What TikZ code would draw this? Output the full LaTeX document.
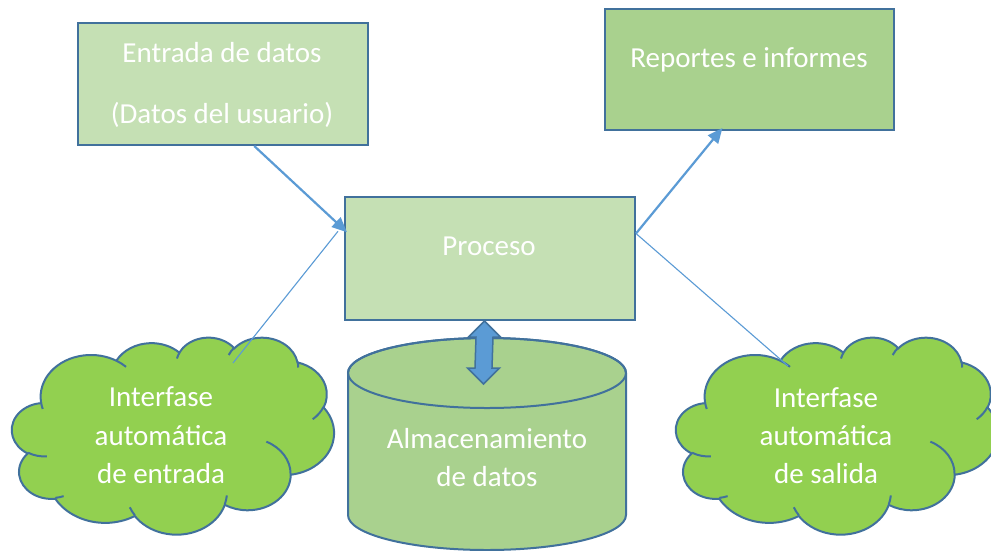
\documentclass[tikz,border=0pt]{standalone}
\usepackage{fontspec}
\setmainfont{Carlito}
\usetikzlibrary{arrows.meta,calc}
\definecolor{lgreen}{HTML}{C5E0B4}
\definecolor{mgreen}{HTML}{A9D18E}
\definecolor{cgreen}{HTML}{92D050}
\definecolor{bord}{HTML}{41719C}
\definecolor{arr}{HTML}{5B9BD5}
\newcommand\oarc[4]{arc[x radius=#1pt, y radius=#2pt, start angle={atan2(#1*sin(#3),#2*cos(#3))}, delta angle={mod(atan2(#1*sin(#3+#4),#2*cos(#3+#4))-atan2(#1*sin(#3),#2*cos(#3))+720,360)}]}
\newcommand\cloudoutline{(390pt,1437pt)
 \oarc{675.3}{919.0}{-190.487}{123.781}
 \oarc{533.3}{726.7}{-144.102}{89.945}
 \oarc{436.5}{594.5}{-145.808}{99.723}
 \oarc{485.7}{659.5}{-130.986}{117.242}
 \oarc{533.3}{727.3}{-78.709}{109.027}
 \oarc{677.5}{922.0}{-46.267}{130.269}
 \oarc{578.5}{786.7}{0.625}{114.033}
 \oarc{675.2}{921.5}{22.452}{115.173}
 \oarc{772.0}{1054.3}{66.243}{75.711}
 \oarc{436.0}{591.8}{-274.942}{146.736}
 \oarc{434.5}{594.5}{-246.829}{152.519} -- cycle}
\newcommand\cloudinner{(469.3pt,2617.7pt) \oarc{434.5}{594.5}{86.742}{26.4295}
 (692.8pt,3489.9pt) \oarc{436.0}{591.8}{73.6105}{11.4475}
 (1647.8pt,3909.0pt) \oarc{675.2}{921.5}{137.624}{14.0811}
 (2882.7pt,3475.1pt) \oarc{675.2}{921.5}{6.4533}{15.9984}
 (3412.9pt,2295.4pt) \oarc{578.5}{786.7}{-70.2924}{70.9174}
 (4179.8pt,1535.4pt) \oarc{533.3}{727.3}{30.318}{27.7515}
 (3832.4pt,542.6pt) \oarc{485.7}{659.5}{-13.7443}{14.8589}
 (2907.8pt,395.2pt) \oarc{485.7}{659.5}{-149.1815}{18.1954}
 (2214.1pt,472.0pt) \oarc{436.5}{594.5}{-163.4943}{17.6864}
 (1400.0pt,519.2pt) \oarc{675.3}{919.0}{-66.707}{12.3194}
 (412.7pt,1578.9pt) \oarc{675.3}{919.0}{157.6544}{11.8582}}
\tikzset{
  box/.style={draw=bord, line width=2pt, rectangle, inner sep=0pt, anchor=north west},
  txt/.style={text=white, font=\fontsize{29}{35}\selectfont, inner sep=0pt, anchor=base},
  thick arrow/.style={draw=arr, line width=2.2pt, -{Triangle[length=15pt,width=13pt]}},
  thin link/.style={draw=arr, line width=1.1pt},
  cloudbody/.style={fill=cgreen, draw=bord, line width=2pt},
  cloudstroke/.style={draw=bord, line width=2pt},
}
\begin{document}
\begin{tikzpicture}[x=1pt, y=-1pt]
\useasboundingbox (0,0) rectangle (991,550);
\clip (0,0) rectangle (991,550);
\fill[white] (0,0) rectangle (991,550);

% boxes
\node[box, fill=lgreen, minimum width=290pt, minimum height=122pt] (entrada) at (77,22) {};
\node[box, fill=mgreen, minimum width=289pt, minimum height=121pt] (reportes) at (604,8) {};
\node[box, fill=lgreen, minimum width=290pt, minimum height=123pt] (proceso) at (344,196) {};

\node[txt] (tentrada) at (222,62) {Entrada de datos};
\node[txt] (tusuario) at (222,123) {(Datos del usuario)};
\node[txt] (treportes) at (749,67) {Reportes e informes};
\node[txt] (tproceso) at (489,255) {Proceso};

% storage cylinder
\path[fill=mgreen, draw=bord, line width=2pt] (348,373) -- (348,515)
  arc[start angle=180, end angle=360, x radius=139pt, y radius=35pt] -- (626,373)
  arc[start angle=0, end angle=180, x radius=139pt, y radius=35pt] -- cycle;
\draw[bord, line width=2pt] (487,373) ellipse [x radius=139pt, y radius=35pt];
\node[txt] (talm) at (487,448) {Almacenamiento};
\node[txt] (tdatos) at (487,486) {de datos};

% clouds
\begin{scope}[shift={(12,337)}, xscale=322/4320, yscale=-197/4320]
  \path[cloudbody] \cloudoutline;
  \path[cloudstroke] \cloudinner;
\end{scope}
\begin{scope}[shift={(676,337)}, xscale=322/4320, yscale=-197/4320]
  \path[cloudbody] \cloudoutline;
  \path[cloudstroke] \cloudinner;
\end{scope}
\node[txt] (tin1) at (161,406) {Interfase};
\node[txt] (tin2) at (161,445) {automática};
\node[txt] (tin3) at (161,483) {de entrada};
\node[txt] (tout1) at (826,407) {Interfase};
\node[txt] (tout2) at (826,445) {automática};
\node[txt] (tout3) at (826,483) {de salida};

% connectors
\coordinate (pin) at ($(proceso.north west)!0.29!(proceso.south west)$);
\coordinate (pout) at ($(proceso.north east)!0.3!(proceso.south east)$);
\coordinate (inL) at (233,363);
\coordinate (outR) at (788,366);
\draw[thin link] (inL) -- ($(pin)+(-6,-1)$);
\draw[thin link] (pout) -- (outR);
\draw[thick arrow] ($(entrada.south west)!0.607!(entrada.south east)$) -- ($(pin)+(3,0)$);
\draw[thick arrow] (pout) -- ($(reportes.south west)!0.407!(reportes.south east)+(0,-3)$);

% double arrow between process and storage
\coordinate (dtop) at ($(proceso.south)+(-5.5,0)$);
\coordinate (dbot) at (483.5,384);
\filldraw[fill=arr, draw=bord, line width=1.5pt, line join=miter] (dtop) -- ++(16,16) -- ++(-7.5,0) -- ($(dbot)+(8.5,-16)$) -- ++(7.5,0) -- (dbot) -- ++(-16,-16) -- ++(7.5,0) -- ($(dtop)+(-8.5,16)$) -- ++(-7.5,0) -- cycle;
\end{tikzpicture}
\end{document}
